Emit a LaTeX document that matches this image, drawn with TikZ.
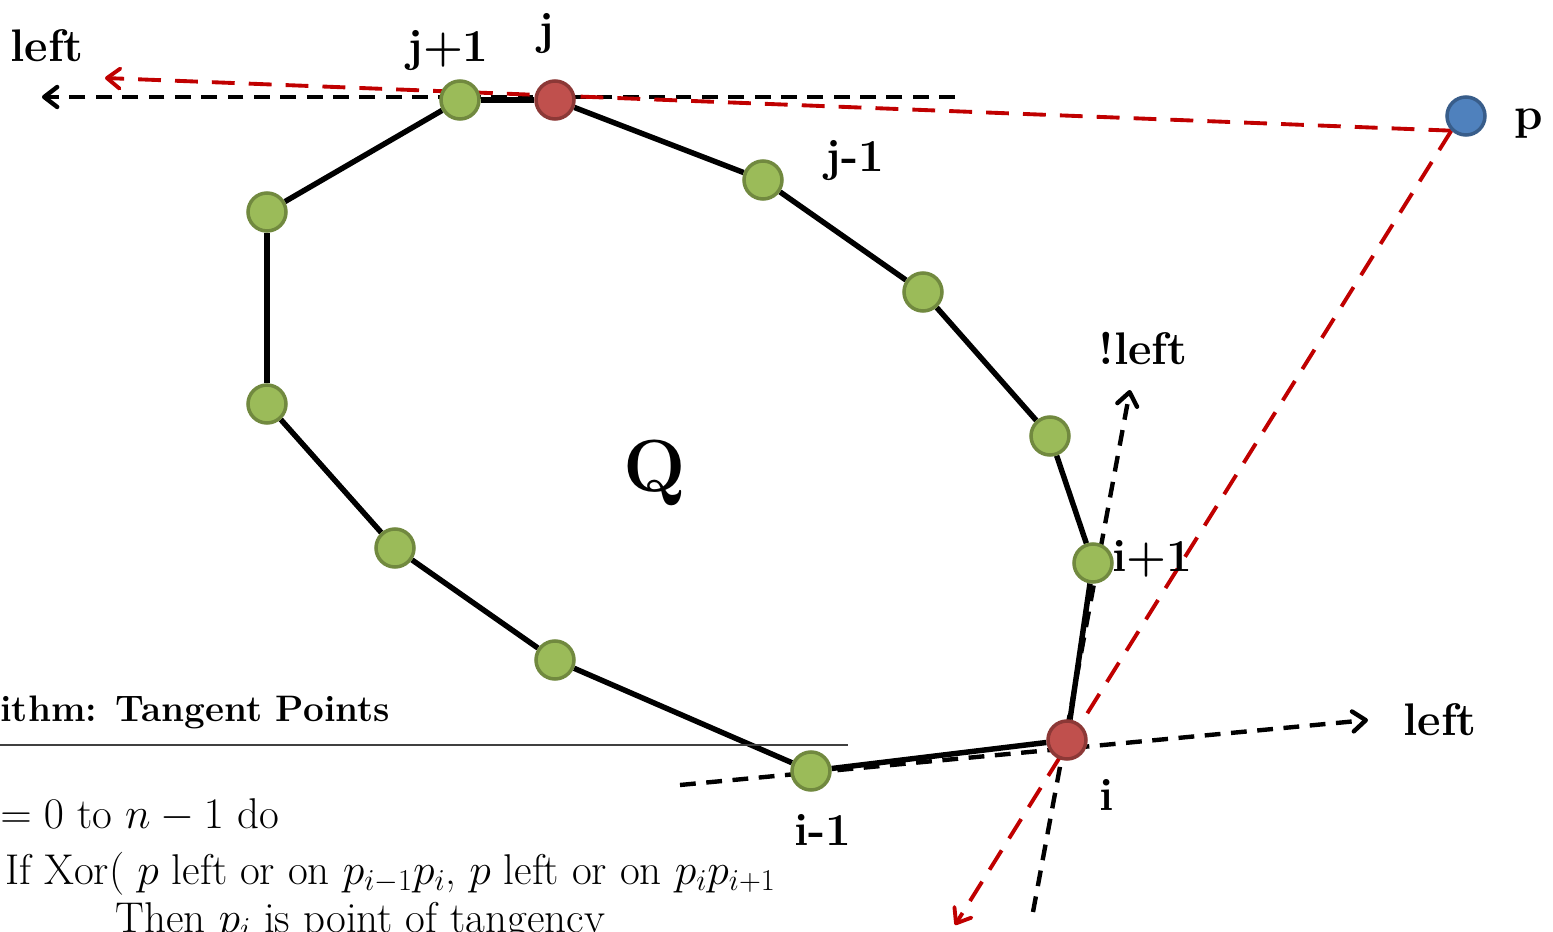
\documentclass[tikz,border=0pt]{standalone}
\usetikzlibrary{arrows.meta,backgrounds}
\definecolor{vgreen}{HTML}{9BBB59}
\definecolor{vgreenD}{HTML}{71893F}
\definecolor{vred}{HTML}{C0504D}
\definecolor{vredD}{HTML}{8C3836}
\definecolor{vblue}{HTML}{4F81BD}
\definecolor{vblueD}{HTML}{385D8A}
\definecolor{rayred}{HTML}{C00000}
\tikzset{
  vtx/.style={circle,draw=vgreenD,fill=vgreen,line width=2pt,minimum size=7.6mm,inner sep=0pt},
  tanpt/.style={vtx,draw=vredD,fill=vred},
  query/.style={vtx,draw=vblueD,fill=vblue},
  edge/.style={line width=3.1pt,black},
  ext/.style={line width=2.5pt,black,dash pattern=on 9pt off 6pt,
    -{Straight Barb[length=2.6mm,width=4mm,round]}},
  ray/.style={line width=2.2pt,rayred,dash pattern=on 13pt off 8pt,
    -{Straight Barb[length=2.6mm,width=4mm,round]}},
  lbl/.style={font=\fontsize{26}{30}\selectfont\bfseries,inner sep=0pt,anchor=base},
  alg/.style={font=\fontsize{24.5}{28}\selectfont,inner sep=0pt,anchor=base west},
}

\begin{document}
\begin{tikzpicture}[x=0.02cm,y=-0.02cm]
  \useasboundingbox (0,0) rectangle (1553,932);
  \clip (0,0) rectangle (1553,932);

  % hull vertices
  \node[vtx]   (vjp) at (460,100) {};
  \node[tanpt] (vj)  at (555,100) {};
  \node[vtx]   (vjm) at (763,180) {};
  \node[vtx]   (va)  at (923,292) {};
  \node[vtx]   (vb)  at (1050,436) {};
  \node[vtx]   (vip) at (1093,563) {};
  \node[tanpt] (vi)  at (1067,740) {};
  \node[vtx]   (vim) at (811,771) {};
  \node[vtx]   (vc)  at (555,660) {};
  \node[vtx]   (vd)  at (395,548) {};
  \node[vtx]   (ve)  at (267,404) {};
  \node[vtx]   (vf)  at (267,212) {};
  \node[query] (p)   at (1466,116) {};

  % free ends of the rays
  \coordinate (topR) at (955,97);
  \coordinate (topL) at (42,97);
  \coordinate (redL) at (105,78);
  \coordinate (redB) at (955,925);
  \coordinate (botL) at (680,785);
  \coordinate (botR) at (1368,720);
  \coordinate (upB)  at (1033,912);
  \coordinate (upT)  at (1130,390);

  \begin{scope}[on background layer]
    \foreach \a/\b in {vjp/vj,vj/vjm,vjm/va,va/vb,vb/vip,vip/vi,vi/vim,
                       vim/vc,vc/vd,vd/ve,ve/vf,vf/vjp}
      \draw[edge] (\a) -- (\b);
    \draw[ext] (topR) -- (topL);
    \draw[ext] (botL) -- (botR);
    \draw[ext] (upB) -- (upT);
    \draw[ray] (p.225) -- (redL);
    \draw[ray] (p.225) -- (redB);
  \end{scope}

  % labels
  \node[lbl] (lTop) at (47,62) {left};
  \node[lbl] (lJp)  at (448,62) {j+1};
  \node[lbl] (lJ)   at (546,45) {j};
  \node[lbl] (lJm)  at (855,172) {j-1};
  \node[lbl] (lNot) at (1143,365) {!left};
  \node[lbl] (lIp)  at (1152,572) {i+1};
  \node[lbl] (lRgt) at (1440,735) {left};
  \node[lbl] (lI)   at (1107,810) {i};
  \node[lbl] (lIm)  at (823,845) {i-1};
  \node[lbl] (lP)   at (1529,130) {p};
  \node[lbl,font=\fontsize{42}{46}\selectfont\bfseries] (lQ) at (655,492) {Q};

  % algorithm box (cut by the frame)
  \node[alg,font=\fontsize{21}{25}\selectfont\bfseries] (aTitle) at (0,722) {ithm: Tangent Points};
  \coordinate (ruleL) at (0,745);
  \coordinate (ruleR) at (848,745);
  \draw[line width=1.2pt,black!75] (ruleL) -- (ruleR);
  \node[alg] (aFor)  at (0,828) {$=0$ to $n-1$ do};
  \node[alg] (aIf)   at (5,884) {If Xor( $p$ left or on $p_{i-1}p_i$, $p$ left or on $p_ip_{i+1}$};
  \node[alg] (aThen) at (115,932) {Then $p_i$ is point of tangency};
\end{tikzpicture}
\end{document}
